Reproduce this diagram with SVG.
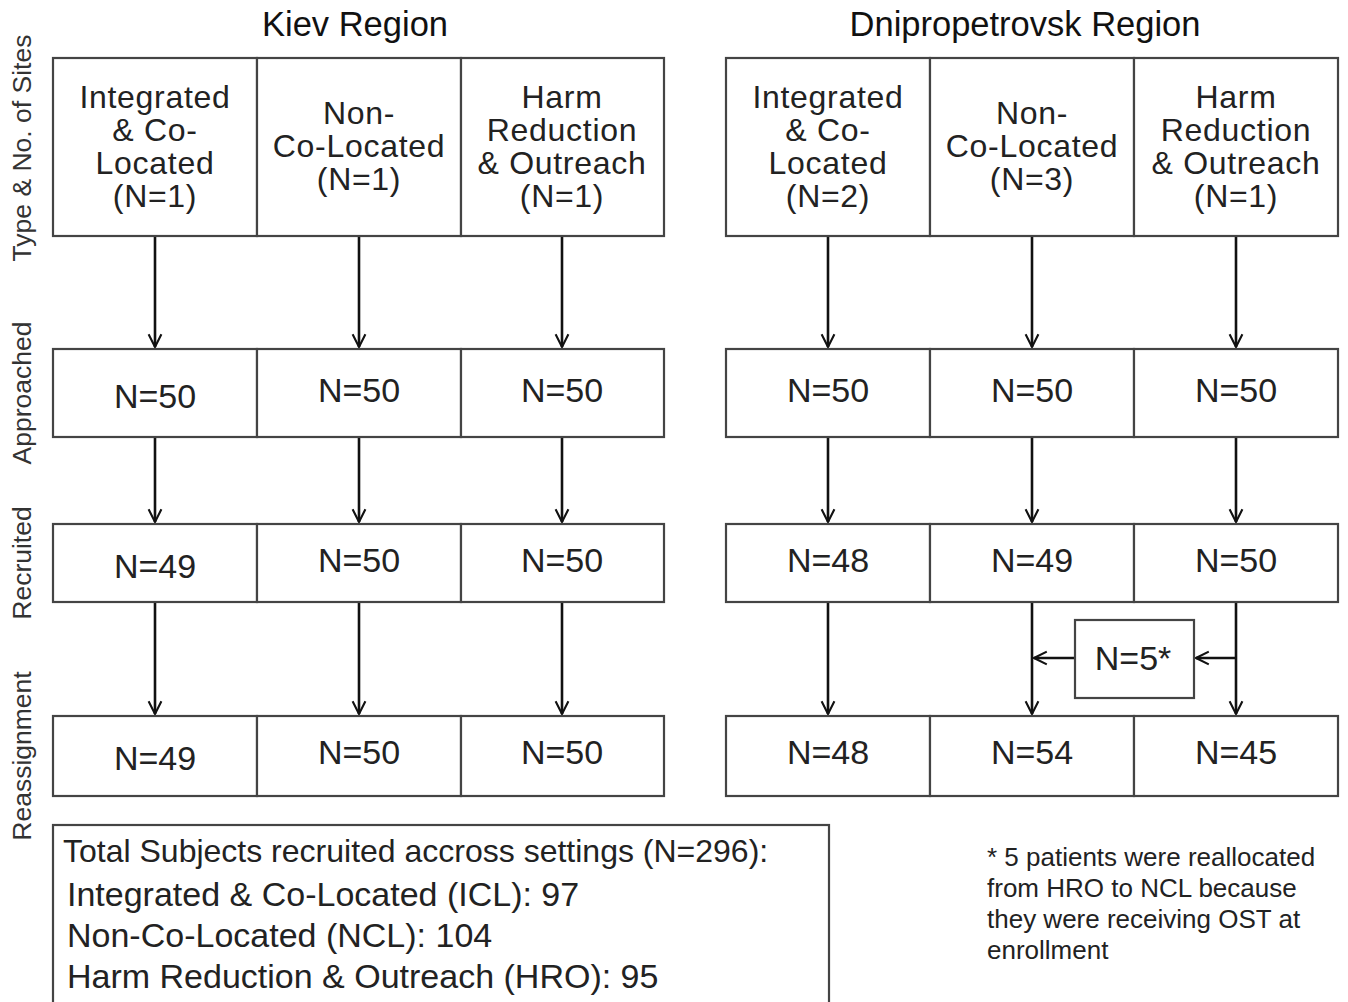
<svg xmlns="http://www.w3.org/2000/svg" width="1348" height="1002" viewBox="0 0 1348 1002">
<defs>
<marker id="ah" viewBox="0 0 20 20" refX="18" refY="10" markerWidth="16" markerHeight="16" markerUnits="userSpaceOnUse" orient="auto">
<path d="M2,2 L18,10 L2,18" fill="none" stroke="#111" stroke-width="2.6"/>
</marker>
</defs>
<style>
.b{fill:#fff;stroke:#444;stroke-width:2.2}
.t{font-family:"Liberation Sans",Arial,sans-serif;font-size:34px;fill:#222;text-anchor:middle}
.n{font-size:32px;letter-spacing:0.7px}
.h{font-family:"Liberation Sans",Arial,sans-serif;font-size:34.5px;fill:#111;text-anchor:middle}
.r{font-family:"Liberation Sans",Arial,sans-serif;font-size:26.5px;fill:#333;text-anchor:middle}
.s{font-family:"Liberation Sans",Arial,sans-serif;font-size:34px;fill:#222}
.s1{font-size:32px}
.f{font-family:"Liberation Sans",Arial,sans-serif;font-size:26px;fill:#222}
.a{stroke:#111;stroke-width:2.6;fill:none;marker-end:url(#ah)}
</style>
<rect width="1348" height="1002" fill="#fff"/>
<text class="h" x="355" y="36">Kiev Region</text>
<text class="h" x="1025" y="36">Dnipropetrovsk Region</text>
<g id="row-labels">
<text class="r" transform="translate(31,148) rotate(-90)">Type &amp; No. of Sites</text>
<text class="r" transform="translate(31,393) rotate(-90)">Approached</text>
<text class="r" transform="translate(31,563) rotate(-90)">Recruited</text>
<text class="r" transform="translate(31,756) rotate(-90)">Reassignment</text>
</g>
<g id="connectors">
<path class="a" d="M155,236 V347"/><path class="a" d="M359,236 V347"/><path class="a" d="M562,236 V347"/>
<path class="a" d="M828,236 V347"/><path class="a" d="M1032,236 V347"/><path class="a" d="M1236,236 V347"/>
<path class="a" d="M155,437 V522"/><path class="a" d="M359,437 V522"/><path class="a" d="M562,437 V522"/>
<path class="a" d="M828,437 V522"/><path class="a" d="M1032,437 V522"/><path class="a" d="M1236,437 V522"/>
<path class="a" d="M155,602 V714"/><path class="a" d="M359,602 V714"/><path class="a" d="M562,602 V714"/>
<path class="a" d="M828,602 V714"/><path class="a" d="M1032,602 V714"/><path class="a" d="M1236,602 V714"/>
<path class="a" d="M1236,658 H1196"/>
<path class="a" d="M1075,658 H1034"/>
</g>
<g id="kiev-sites">
<rect class="b" x="53" y="58" width="204" height="178"/>
<rect class="b" x="257" y="58" width="204" height="178"/>
<rect class="b" x="461" y="58" width="203" height="178"/>
<text class="t n" x="155" y="108">Integrated</text><text class="t n" x="155" y="141">&amp; Co-</text><text class="t n" x="155" y="174">Located</text><text class="t n" x="155" y="207">(N=1)</text>
<text class="t n" x="359" y="124">Non-</text><text class="t n" x="359" y="157">Co-Located</text><text class="t n" x="359" y="190">(N=1)</text>
<text class="t n" x="562" y="108">Harm</text><text class="t n" x="562" y="141">Reduction</text><text class="t n" x="562" y="174">&amp; Outreach</text><text class="t n" x="562" y="207">(N=1)</text>
</g>
<g id="dnipro-sites">
<rect class="b" x="726" y="58" width="204" height="178"/>
<rect class="b" x="930" y="58" width="204" height="178"/>
<rect class="b" x="1134" y="58" width="204" height="178"/>
<text class="t n" x="828" y="108">Integrated</text><text class="t n" x="828" y="141">&amp; Co-</text><text class="t n" x="828" y="174">Located</text><text class="t n" x="828" y="207">(N=2)</text>
<text class="t n" x="1032" y="124">Non-</text><text class="t n" x="1032" y="157">Co-Located</text><text class="t n" x="1032" y="190">(N=3)</text>
<text class="t n" x="1236" y="108">Harm</text><text class="t n" x="1236" y="141">Reduction</text><text class="t n" x="1236" y="174">&amp; Outreach</text><text class="t n" x="1236" y="207">(N=1)</text>
</g>
<g id="kiev-approached">
<rect class="b" x="53" y="349" width="204" height="88"/><rect class="b" x="257" y="349" width="204" height="88"/><rect class="b" x="461" y="349" width="203" height="88"/>
<text class="t" x="155" y="408">N=50</text><text class="t" x="359" y="402">N=50</text><text class="t" x="562" y="402">N=50</text>
</g>
<g id="dnipro-approached">
<rect class="b" x="726" y="349" width="204" height="88"/><rect class="b" x="930" y="349" width="204" height="88"/><rect class="b" x="1134" y="349" width="204" height="88"/>
<text class="t" x="828" y="402">N=50</text><text class="t" x="1032" y="402">N=50</text><text class="t" x="1236" y="402">N=50</text>
</g>
<g id="kiev-recruited">
<rect class="b" x="53" y="524" width="204" height="78"/><rect class="b" x="257" y="524" width="204" height="78"/><rect class="b" x="461" y="524" width="203" height="78"/>
<text class="t" x="155" y="578">N=49</text><text class="t" x="359" y="572">N=50</text><text class="t" x="562" y="572">N=50</text>
</g>
<g id="dnipro-recruited">
<rect class="b" x="726" y="524" width="204" height="78"/><rect class="b" x="930" y="524" width="204" height="78"/><rect class="b" x="1134" y="524" width="204" height="78"/>
<text class="t" x="828" y="572">N=48</text><text class="t" x="1032" y="572">N=49</text><text class="t" x="1236" y="572">N=50</text>
</g>
<g id="reallocation">
<rect class="b" x="1075" y="620" width="119" height="78"/>
<text class="t" x="1133" y="670">N=5*</text>
</g>
<g id="kiev-reassignment">
<rect class="b" x="53" y="716" width="204" height="80"/><rect class="b" x="257" y="716" width="204" height="80"/><rect class="b" x="461" y="716" width="203" height="80"/>
<text class="t" x="155" y="770">N=49</text><text class="t" x="359" y="764">N=50</text><text class="t" x="562" y="764">N=50</text>
</g>
<g id="dnipro-reassignment">
<rect class="b" x="726" y="716" width="204" height="80"/><rect class="b" x="930" y="716" width="204" height="80"/><rect class="b" x="1134" y="716" width="204" height="80"/>
<text class="t" x="828" y="764">N=48</text><text class="t" x="1032" y="764">N=54</text><text class="t" x="1236" y="764">N=45</text>
</g>
<g id="totals">
<rect class="b" x="53" y="825" width="776" height="185"/>
<text class="s s1" x="63" y="862">Total Subjects recruited accross settings (N=296):</text>
<text class="s" x="67" y="906">Integrated &amp; Co-Located (ICL): 97</text>
<text class="s" x="67" y="947">Non-Co-Located (NCL): 104</text>
<text class="s" x="67" y="988">Harm Reduction &amp; Outreach (HRO): 95</text>
</g>
<g id="footnote">
<text class="f" x="987" y="866">* 5 patients were reallocated</text>
<text class="f" x="987" y="897">from HRO to NCL because</text>
<text class="f" x="987" y="928">they were receiving OST at</text>
<text class="f" x="987" y="959">enrollment</text>
</g>
</svg>
